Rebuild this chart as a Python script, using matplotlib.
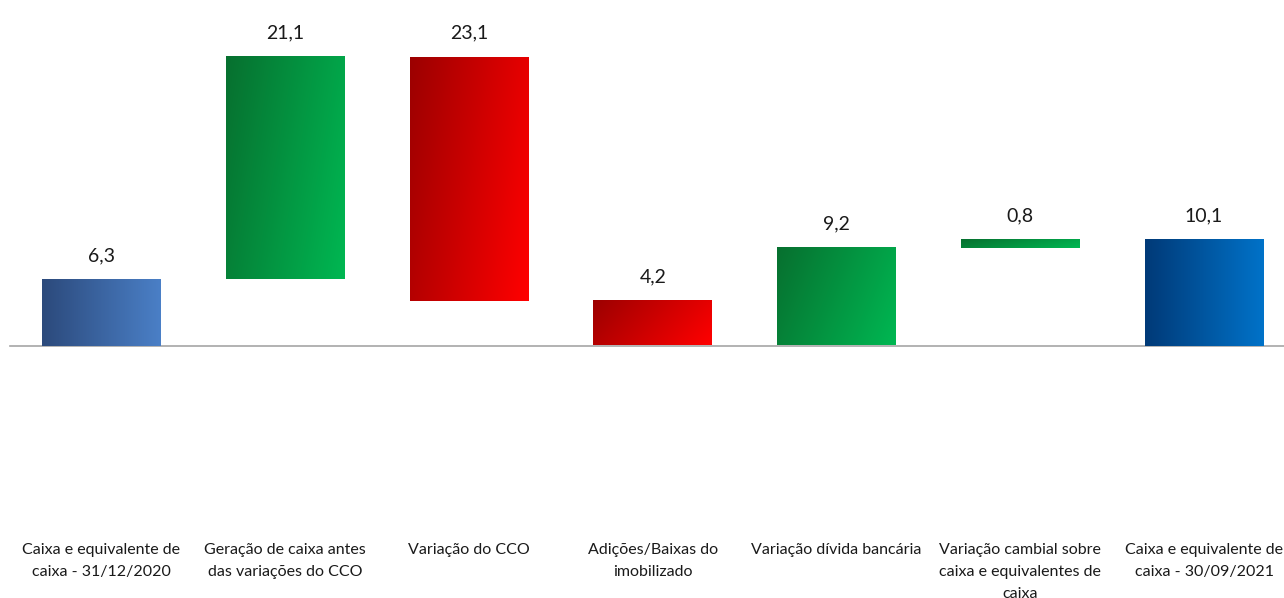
import numpy as np
import matplotlib
matplotlib.use("Agg")
import matplotlib.pyplot as plt
from matplotlib.colors import LinearSegmentedColormap
import matplotlib.transforms as mtransforms

categories = ["Caixa e equivalente de\ncaixa - 31/12/2020",
              "Geração de caixa antes\ndas variações do CCO",
              "Variação do CCO",
              "Adições/Baixas do\nimobilizado",
              "Variação dívida bancária",
              "Variação cambial sobre\ncaixa e equivalentes de\ncaixa",
              "Caixa e equivalente de\ncaixa - 30/09/2021"]
changes = [6.3, 21.1, -23.1, -4.2, 9.2, 0.8, 10.1]
kinds = ["start", "up", "down", "down", "up", "up", "end"]
labels = ["6,3", "21,1", "23,1", "4,2", "9,2", "0,8", "10,1"]

# waterfall bottoms / heights
bottoms = []
heights = []
run = 0.0
for v, k in zip(changes, kinds):
    if k in ("start", "end"):
        bottoms.append(0)
        heights.append(v)
        run = v
    else:
        new = run + v
        bottoms.append(min(run, new))
        heights.append(abs(v))
        run = new

cmaps = {
    "start": (LinearSegmentedColormap.from_list("s", ["#2c4a7c", "#4a7fc6"]), "h"),
    "end": (LinearSegmentedColormap.from_list("e", ["#003a78", "#0072c8"]), "h"),
    "up": (LinearSegmentedColormap.from_list("u", ["#07702f", "#00b752"]), "d"),
    "down": (LinearSegmentedColormap.from_list("d", ["#9c0000", "#ff0000"]), "d"),
}

plt.rcParams['font.family'] = ['Lato', 'DejaVu Sans']
fig = plt.figure(figsize=(12.84, 5.98), dpi=100)
ax = fig.add_axes([0, 0, 1, 1])

x = np.arange(len(categories))
bars = ax.bar(x, heights, bottom=bottoms, width=0.647, color="none")

gx, gy = np.meshgrid(np.linspace(0, 1, 64), np.linspace(0, 1, 64))
for b, k in zip(bars, kinds):
    cmap, mode = cmaps[k]
    if mode == "h":
        g = gx
    else:
        g = 0.75 * gx + 0.25 * (1 - gy)
    x0, y0 = b.get_x(), b.get_y()
    ax.imshow(g, cmap=cmap, extent=[x0, x0 + b.get_width(), y0 + b.get_height(), y0],
              aspect="auto", origin="upper", zorder=2, interpolation="bilinear")

for b, lab in zip(bars, labels):
    top = b.get_y() + b.get_height()
    ax.annotate(lab, (b.get_x() + b.get_width() / 2, top), xytext=(0, 17),
                textcoords="offset points", ha="center", va="center", fontsize=14, color="#1a1a1a")

ax.plot([-0.5, 6.6], [0, 0], color="#a6a6a6", lw=1.2, zorder=1)

# category labels, one line at a time so every line is centred
trans = mtransforms.blended_transform_factory(ax.transData, ax.transAxes)
for xi, c in zip(x, categories):
    for j, line in enumerate(c.split("\n")):
        ax.text(xi, 1 - (550 + 22 * j) / 598, line, transform=trans, ha="center", va="center",
                fontsize=11.5, color="#1a1a1a")

ax.set_xlim(-0.552, 6.435)
ax.set_ylim(-23.9, 32.8)
ax.axis("off")

fig.savefig("out.png", dpi=100)
